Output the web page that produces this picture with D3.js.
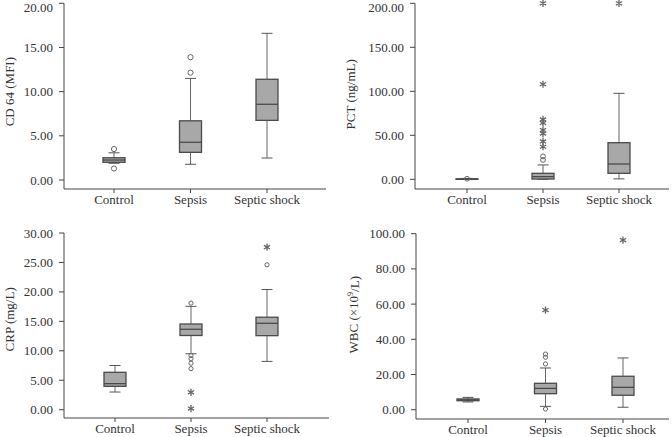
<!DOCTYPE html>
<html>
<head>
<meta charset="utf-8">
<script src="https://cdn.jsdelivr.net/npm/d3@7"></script>
<style>
  html, body { margin: 0; padding: 0; background: #fff; }
  svg { display: block; }
  text { font-family: "Times New Roman", "Liberation Serif", Times, serif; fill: #333; }
</style>
</head>
<body>
<svg id="chart" width="672" height="437"></svg>
<script>
// ---------- data ----------
const categories = ["Control", "Sepsis", "Septic shock"];

// [lower whisker, Q1, median, Q3, upper whisker]
const cd64Boxes = [[1.89, 2.0, 2.26, 2.52, 3.08], [1.78, 3.13, 4.27, 6.7, 11.5], [2.49, 6.75, 8.57, 11.4, 16.6]];
const cd64Circles = [[3.5, 1.3], [13.9, 12.15], []];
const cd64Stars = [[], [], []];
const cd64Ticks = [0, 5, 10, 15, 20];

const pctBoxes = [[0.0, 0.05, 0.2, 0.5, 1.0], [0.05, 0.3, 3.0, 6.8, 16.3], [0.5, 6.8, 17.4, 41.6, 97.7]];
const pctCircles = [[0.6], [26, 22], []];
const pctStars = [[], [200, 108, 68, 64, 56, 52, 43, 37], [200]];
const pctTicks = [0, 50, 100, 150, 200];

const crpBoxes = [[3.0, 3.97, 4.42, 6.35, 7.5], [9.5, 12.6, 13.65, 14.55, 17.55], [8.2, 12.57, 14.67, 15.7, 20.4]];
const crpCircles = [[], [18.1, 9.2, 8.65, 7.9, 6.97], [24.6]];
const crpStars = [[], [2.95, 0.2], [27.6]];
const crpTicks = [0, 5, 10, 15, 20, 25, 30];

const wbcBoxes = [[4.4, 5.1, 5.6, 6.1, 7.0], [1.9, 9.1, 12.1, 15.0, 23.7], [1.4, 8.2, 12.7, 19.0, 29.4]];
const wbcCircles = [[], [31.6, 29.8, 26.0, 0.4], []];
const wbcStars = [[], [56.6], [96.4]];
const wbcTicks = [0, 20, 40, 60, 80, 100];

// ---------- layout ----------
const panels = [
  { boxes: cd64Boxes, circles: cd64Circles, stars: cd64Stars, ticks: cd64Ticks, label: ["CD 64 (MFI)"],
    ax: 64, right: 326, top: 3.3, zero: 180, bottom: 189, catL: 114, catR: 267, labX: 9, labShift: 0, circR: 2.6 },
  { boxes: pctBoxes, circles: pctCircles, stars: pctStars, ticks: pctTicks, label: ["PCT (ng/mL)"],
    ax: 415, right: 669, top: 3.3, zero: 179.3, bottom: 189, catL: 467, catR: 619, labX: 350, labShift: 3, circR: 2.4 },
  { boxes: crpBoxes, circles: crpCircles, stars: crpStars, ticks: crpTicks, label: ["CRP (mg/L)"],
    ax: 64, right: 329, top: 233, zero: 409.7, bottom: 418, catL: 115, catR: 267, labX: 9, labShift: -2, circR: 2.1 },
  { boxes: wbcBoxes, circles: wbcCircles, stars: wbcStars, ticks: wbcTicks, label: ["WBC (×10", "9", "/L)"],
    ax: 416, right: 669, top: 233.7, zero: 409.7, bottom: 419, catL: 468, catR: 623, labX: 353, labShift: -7, circR: 2.1 }
];

const svg = d3.select("#chart");
const boxW = 22, capW = 11;
const axisColor = "#444";

panels.forEach(p => {
  const y = d3.scaleLinear().domain([0, d3.max(p.ticks)]).range([p.zero, p.top]);
  const x = d3.scalePoint().domain(categories).range([p.catL, p.catR]);
  const g = svg.append("g");

  // y axis
  g.append("line").attr("x1", p.ax).attr("x2", p.ax).attr("y1", p.top).attr("y2", p.bottom)
    .attr("stroke", axisColor).attr("stroke-width", 1);
  const yt = g.selectAll(".yt").data(p.ticks).enter().append("g");
  yt.append("line").attr("x1", p.ax - 5).attr("x2", p.ax).attr("y1", d => y(d)).attr("y2", d => y(d))
    .attr("stroke", axisColor);
  yt.append("text").attr("x", p.ax - 11).attr("y", d => Math.max(y(d), 7)).attr("dy", "0.35em")
    .attr("text-anchor", "end").attr("font-size", 13).text(d => d3.format(".2f")(d));

  // x axis
  g.append("line").attr("x1", p.ax).attr("x2", p.right).attr("y1", p.bottom).attr("y2", p.bottom)
    .attr("stroke", axisColor);
  const xt = g.selectAll(".xt").data(categories).enter().append("g");
  xt.append("line").attr("x1", d => x(d)).attr("x2", d => x(d)).attr("y1", p.bottom).attr("y2", p.bottom + 4)
    .attr("stroke", axisColor);
  xt.append("text").attr("x", d => x(d)).attr("y", p.bottom + 15).attr("text-anchor", "middle")
    .attr("font-size", 13).text(d => d);

  // y label
  const cy = (p.top + p.zero) / 2 + p.labShift;
  const lab = g.append("text").attr("transform", `translate(${p.labX},${cy}) rotate(-90)`)
    .attr("text-anchor", "middle").attr("dy", "0.35em").attr("font-size", 13);
  if (p.label.length === 1) {
    lab.text(p.label[0]);
  } else {
    lab.append("tspan").text(p.label[0]);
    lab.append("tspan").attr("font-size", 8).attr("dy", "-0.6em").text(p.label[1]);
    lab.append("tspan").attr("dy", "0.45em").text(p.label[2]);
  }

  // boxes
  categories.forEach((c, i) => {
    const [lo, q1, med, q3, hi] = p.boxes[i];
    const cx = x(c);
    const bg = g.append("g");
    bg.append("line").attr("x1", cx).attr("x2", cx).attr("y1", y(hi)).attr("y2", y(q3)).attr("stroke", "#666");
    bg.append("line").attr("x1", cx).attr("x2", cx).attr("y1", y(q1)).attr("y2", y(lo)).attr("stroke", "#666");
    bg.append("line").attr("x1", cx - capW / 2).attr("x2", cx + capW / 2).attr("y1", y(hi)).attr("y2", y(hi)).attr("stroke", "#555");
    bg.append("line").attr("x1", cx - capW / 2).attr("x2", cx + capW / 2).attr("y1", y(lo)).attr("y2", y(lo)).attr("stroke", "#555");
    bg.append("rect").attr("x", cx - boxW / 2).attr("width", boxW)
      .attr("y", y(q3)).attr("height", Math.max(0.5, y(q1) - y(q3)))
      .attr("fill", "#a8a8a8").attr("stroke", "#4a4a4a").attr("stroke-width", 1.3);
    bg.append("line").attr("x1", cx - boxW / 2).attr("x2", cx + boxW / 2).attr("y1", y(med)).attr("y2", y(med))
      .attr("stroke", "#4a4a4a").attr("stroke-width", 1.3);

    // outliers
    bg.selectAll(".oc").data(p.circles[i]).enter().append("circle")
      .attr("cx", cx).attr("cy", d => y(d)).attr("r", p.circR)
      .attr("fill", "none").attr("stroke", "#666").attr("stroke-width", 1);
    bg.selectAll(".os").data(p.stars[i]).enter().append("path")
      .attr("transform", d => `translate(${cx},${y(d)})`)
      .attr("d", d3.symbol().type(d3.symbolAsterisk).size(36))
      .attr("fill", "none").attr("stroke", "#666").attr("stroke-width", 1.3);
  });
});
</script>
</body>
</html>
